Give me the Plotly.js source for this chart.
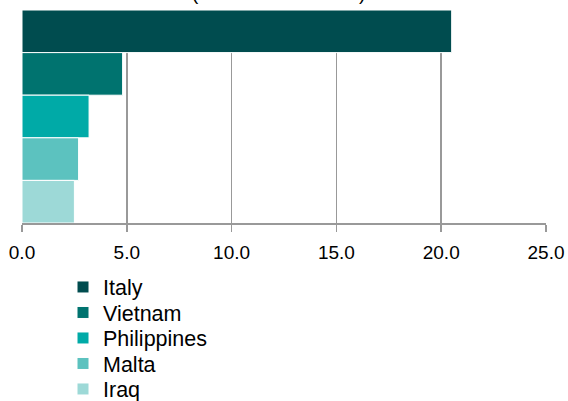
<!DOCTYPE html>
<html>
<head>
<meta charset="utf-8">
<script src="https://cdn.plot.ly/plotly-3.0.1.min.js"></script>
<style>html,body{margin:0;padding:0;background:#fff;}#chart{width:568px;height:401px;}</style>
</head>
<body>
<div id="chart"></div>
<script>
var countries = ["Italy", "Vietnam", "Philippines", "Malta", "Iraq"];
var residents = [20.5, 4.8, 3.2, 2.7, 2.5];
var colors = ["#004c4f", "#00736f", "#00aaa7", "#5cc2bf", "#9dd9d7"];
var tickVals = [0, 5, 10, 15, 20, 25];
var titleText = "(thousand residents)";

var legendIds = countries.map(function (c, i) { return i === 0 ? "legend" : "legend" + (i + 1); });

var traces = countries.map(function (c, i) {
  return {
    type: "bar",
    orientation: "h",
    name: c,
    y: [c],
    x: [residents[i]],
    legend: legendIds[i],
    marker: { color: colors[i], line: { color: "#ffffff", width: 1 } },
    hoverinfo: "x+name"
  };
});

// plot area in pixels: x 22..546, y 10..223
var plotL = 22, plotW = 524, plotB = 223, plotH = 213;
function legendAt(px, py) {
  return {
    x: (px - plotL) / plotW,
    y: (plotB - py) / plotH,
    xref: "paper",
    yref: "paper",
    xanchor: "left",
    yanchor: "middle",
    font: { size: 21.5, color: "#000" },
    bgcolor: "rgba(0,0,0,0)",
    borderwidth: 0
  };
}

var layout = {
  width: 568,
  height: 401,
  margin: { l: 22, r: 22, t: 10, b: 178, autoexpand: false },
  paper_bgcolor: "#fff",
  plot_bgcolor: "#fff",
  barmode: "overlay",
  bargap: 0,
  font: { family: "Liberation Sans, Arial, sans-serif", color: "#000", size: 19 },
  xaxis: {
    range: [0, 25],
    tickvals: tickVals,
    tickformat: ".1f",
    ticks: "outside",
    ticklen: 7,
    tickwidth: 1.5,
    tickcolor: "#999",
    ticklabelstandoff: 5,
    showline: true,
    linecolor: "#999",
    linewidth: 1.5,
    showgrid: true,
    gridcolor: "#999",
    gridwidth: 1.5,
    zeroline: false,
    tickfont: { size: 19 },
    fixedrange: true
  },
  yaxis: {
    categoryorder: "array",
    categoryarray: countries,
    autorange: "reversed",
    showticklabels: false,
    showgrid: false,
    zeroline: false,
    showline: false,
    ticks: "",
    fixedrange: true
  },
  showlegend: true,
  annotations: [{
    text: titleText,
    xref: "paper",
    yref: "paper",
    x: 0.49,
    y: 1,
    xanchor: "center",
    yanchor: "bottom",
    yshift: 4,
    showarrow: false,
    font: { size: 19, color: "#000" }
  }]
};

var legendY = [287, 312.5, 338, 363.5, 389];
legendIds.forEach(function (id, i) {
  layout[id] = legendAt(63, legendY[i]);
});

Plotly.newPlot("chart", traces, layout, { displayModeBar: false, staticPlot: true });
</script>
</body>
</html>
